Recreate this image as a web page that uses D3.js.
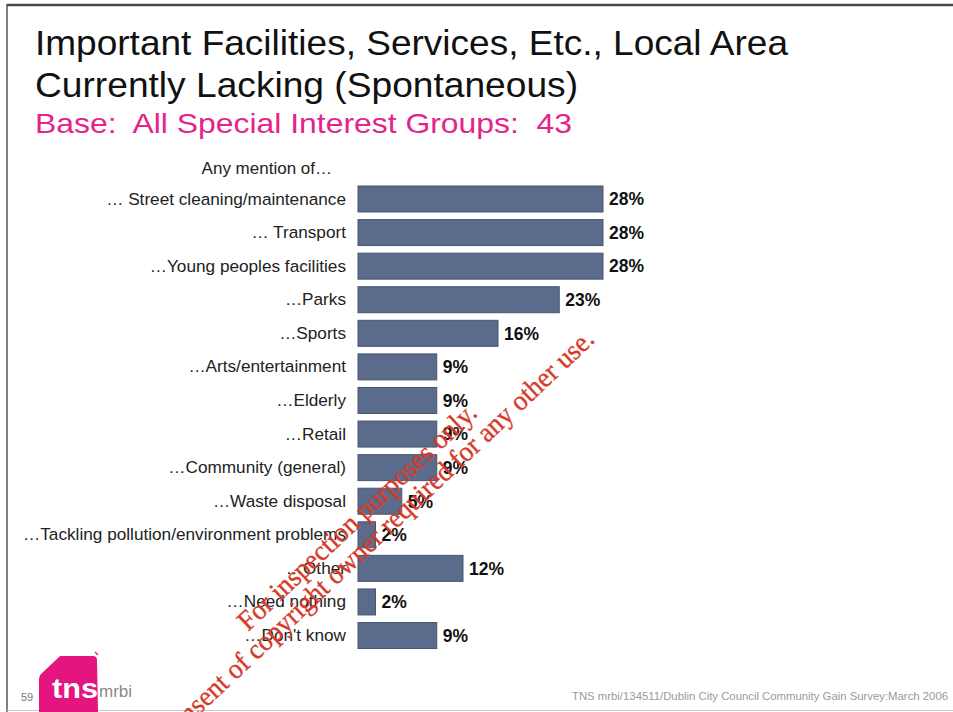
<!DOCTYPE html>
<html>
<head>
<meta charset="utf-8">
<script src="https://cdn.jsdelivr.net/npm/d3@7"></script>
<style>
  html, body { margin: 0; padding: 0; background: #fff; }
  svg { display: block; }
  text { white-space: pre; }
</style>
</head>
<body>
<svg id="chart" width="953" height="712"></svg>
<script>
// Facilities currently lacking in the local area (spontaneous mentions, % of groups)
const categories = [
  "\u2026 Street cleaning/maintenance",
  "\u2026 Transport",
  "\u2026Young peoples facilities",
  "\u2026Parks",
  "\u2026Sports",
  "\u2026Arts/entertainment",
  "\u2026Elderly",
  "\u2026Retail",
  "\u2026Community (general)",
  "\u2026Waste disposal",
  "\u2026Tackling pollution/environment problems",
  "\u2026Other",
  "\u2026Need nothing",
  "\u2026Don't know"
];
const values = [28, 28, 28, 23, 16, 9, 9, 9, 9, 5, 2, 12, 2, 9];
const valueLabels = values.map(v => v + "%");

const titleLines = [
  "Important Facilities, Services, Etc., Local Area",
  "Currently Lacking (Spontaneous)"
];
const subtitle = "Base:  All Special Interest Groups:  43";
const headerLabel = "Any mention of\u2026";
const footerText = "TNS mrbi/134511/Dublin City Council Community Gain Survey:March 2006";
const pageNumber = "59";
const stampLines = [
  "For inspection purposes only.",
  "Consent of copyright owner required for any other use."
];

const svg = d3.select("#chart");

// slide frame
svg.append("line").attr("x1", 7).attr("x2", 953).attr("y1", 5).attr("y2", 5)
  .attr("stroke", "#4a4a4a").attr("stroke-width", 2.5);
svg.append("line").attr("x1", 7).attr("x2", 7).attr("y1", 4).attr("y2", 712)
  .attr("stroke", "#555").attr("stroke-width", 1.5);
svg.append("line").attr("x1", 7).attr("x2", 953).attr("y1", 710.5).attr("y2", 710.5)
  .attr("stroke", "#c8c8c8").attr("stroke-width", 1);

// titles
const sans = "'Liberation Sans', Arial, sans-serif";
svg.selectAll("text.title").data(titleLines).join("text")
  .attr("class", "title")
  .attr("x", 35).attr("y", (d, i) => 55 + i * 42)
  .attr("font-family", sans).attr("font-size", 35)
  .attr("fill", "#111")
  .attr("textLength", (d, i) => [753, 543][i])
  .attr("lengthAdjust", "spacingAndGlyphs")
  .text(d => d);

svg.append("text")
  .attr("x", 35).attr("y", 133)
  .attr("font-family", sans).attr("font-size", 28)
  .attr("fill", "#e3248c")
  .attr("textLength", 537).attr("lengthAdjust", "spacingAndGlyphs")
  .text(subtitle);

// scales
const x = d3.scaleLinear().domain([0, 28]).range([358, 603]);
const pad = 0.226;
const step = 33.58;
const r0 = 186 - pad * step / 2;
const y = d3.scaleBand().domain(categories)
  .range([r0, r0 + categories.length * step])
  .paddingInner(pad).paddingOuter(pad / 2);

svg.append("text")
  .attr("x", 332).attr("y", 174)
  .attr("text-anchor", "end")
  .attr("font-family", sans).attr("font-size", 17)
  .attr("fill", "#222")
  .text(headerLabel);

// category axis (labels only)
const yAxis = d3.axisLeft(y).tickSize(0).tickPadding(0);
const gy = svg.append("g").attr("transform", "translate(346,0)").call(yAxis);
gy.select(".domain").remove();
gy.selectAll("text")
  .attr("font-family", sans).attr("font-size", 17.2)
  .attr("fill", "#222");

// bars
const rows = categories.map((c, i) => ({ c, v: values[i], label: valueLabels[i] }));
svg.append("g").selectAll("rect").data(rows).join("rect")
  .attr("x", x(0))
  .attr("y", d => y(d.c))
  .attr("width", d => x(d.v) - x(0))
  .attr("height", y.bandwidth())
  .attr("fill", "#5b6b8b")
  .attr("stroke", "#48566f")
  .attr("stroke-width", 1);

svg.append("g").selectAll("text").data(rows).join("text")
  .attr("x", d => x(d.v) + 6)
  .attr("y", d => y(d.c) + y.bandwidth() / 2)
  .attr("dy", "0.36em")
  .attr("font-family", sans).attr("font-size", 17.5).attr("font-weight", "bold")
  .attr("fill", "#111")
  .text(d => d.label);

// logo
const logo = svg.append("g");
logo.append("path")
  .attr("d", "M61,656 L93,656 Q97,656 97,660 L98,712 L39,712 L39,679 Q39,676 41,674 L58,658 Q59,656 61,656 Z")
  .attr("fill", "#e4157f");
logo.append("path")
  .attr("d", "M95,652 L98,655")
  .attr("stroke", "#e4157f").attr("stroke-width", 1.2);
logo.append("text")
  .attr("x", 52).attr("y", 698)
  .attr("font-family", sans).attr("font-size", 27).attr("font-weight", "bold")
  .attr("fill", "#fff")
  .attr("textLength", 46).attr("lengthAdjust", "spacingAndGlyphs")
  .text("tns");
logo.append("text")
  .attr("x", 99).attr("y", 697)
  .attr("font-family", sans).attr("font-size", 17)
  .attr("fill", "#8a8a8a")
  .text("mrbi");

svg.append("text")
  .attr("x", 21).attr("y", 701)
  .attr("font-family", sans).attr("font-size", 11)
  .attr("fill", "#777")
  .text(pageNumber);

svg.append("text")
  .attr("x", 948).attr("y", 700)
  .attr("text-anchor", "end")
  .attr("font-family", sans).attr("font-size", 11.5)
  .attr("fill", "#9a9a9a")
  .attr("textLength", 376).attr("lengthAdjust", "spacingAndGlyphs")
  .text(footerText);

// red diagonal stamp across the plot: first line anchored at its start,
// second line anchored at its end (it runs off the bottom edge of the slide)
const stampPos = [
  { x: 248, y: 632, anchor: "start", len: 317 },
  { x: 596, y: 341, anchor: "end", len: 590 }
];
svg.append("g").selectAll("text").data(stampLines).join("text")
  .attr("transform", (d, i) => `translate(${stampPos[i].x},${stampPos[i].y}) rotate(-43.3)`)
  .attr("text-anchor", (d, i) => stampPos[i].anchor)
  .attr("font-family", "'Liberation Serif', 'Times New Roman', serif")
  .attr("font-size", 28)
  .attr("fill", "#d63a2a")
  .attr("stroke", "#d63a2a").attr("stroke-width", 0.35)
  .attr("textLength", (d, i) => stampPos[i].len)
  .attr("lengthAdjust", "spacingAndGlyphs")
  .text(d => d);
</script>
</body>
</html>
